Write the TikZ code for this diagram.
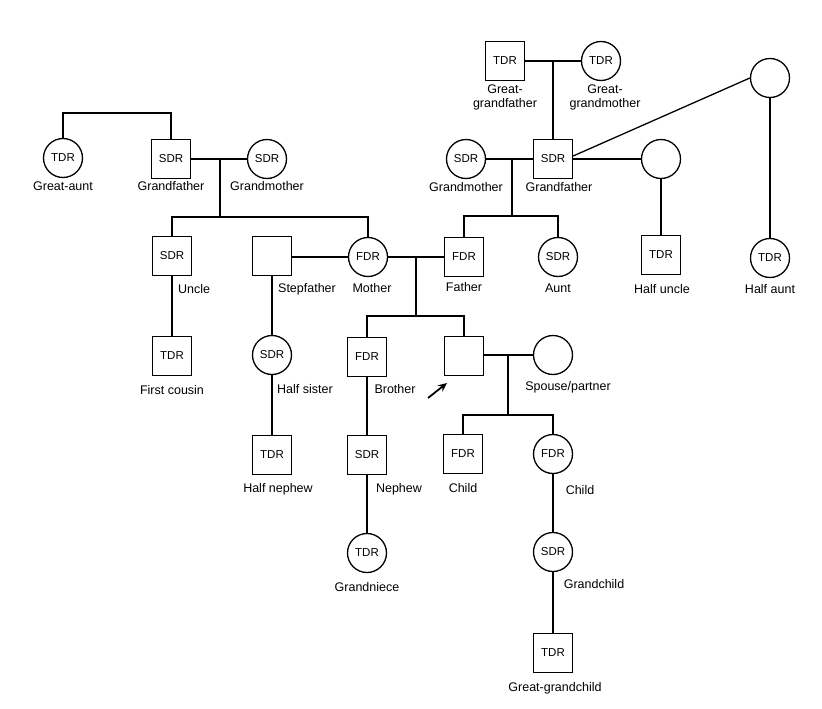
\documentclass[tikz,border=0pt]{standalone}
\usepackage{fontspec}
\setmainfont{Liberation Sans}
\usetikzlibrary{arrows.meta}
\begin{document}
\begin{tikzpicture}[x=1pt,y=-1pt,
  person/.style={draw, line width=1.3pt, inner sep=0pt, font=\fontsize{11.5}{12}\selectfont},
  male/.style={person, rectangle, minimum size=39pt},
  female/.style={person, circle, minimum size=39pt},
  lbl/.style={font=\fontsize{12.5}{14}\selectfont, inner sep=0pt, align=center},
  link/.style={line width=1.3pt}]
\useasboundingbox (0,0) rectangle (822,709);

% paternal side (left)
\node[female] (gaunt) at (63,158) {TDR};
\node[lbl] (gauntl) at (63,186) {Great-aunt};
\node[male] (pgf) at (171,159) {SDR};
\node[lbl] (pgfl) at (171,186) {Grandfather};
\node[female] (pgm) at (267,159) {SDR};
\node[lbl] (pgml) at (267,186) {Grandmother};

\node[male] (uncle) at (172,256) {SDR};
\node[lbl, anchor=west] (unclel) at (178,289) {Uncle};
\node[male] (cousin) at (172,356) {TDR};
\node[lbl] (cousinl) at (172,390) {First cousin};

\node[male] (step) at (272,256) {};
\node[lbl] (stepl) at (307,289) {Stepfather};
\node[female] (mother) at (368,257) {FDR};
\node[lbl] (motherl) at (372,288) {Mother};

\node[female] (hsis) at (272,355) {SDR};
\node[lbl] (hsisl) at (305,389) {Half sister};
\node[male] (hneph) at (272,455) {TDR};
\node[lbl] (hnephl) at (278,489) {Half nephew};

% maternal side (right)
\node[male] (ggf) at (505,61) {TDR};
\node[lbl] (ggfl) at (505,97) {Great-\\grandfather};
\node[female] (ggm) at (601,61) {TDR};
\node[lbl] (ggml) at (605,97) {Great-\\grandmother};
\node[female] (mgm) at (466,159) {SDR};
\node[lbl] (mgml) at (466,187) {Grandmother};
\node[male] (mgf) at (553,159) {SDR};
\node[lbl] (mgfl) at (559,187) {Grandfather};
\node[female] (w1) at (770,78) {};
\node[female] (w2) at (661,159) {};

\node[male] (father) at (464,257) {FDR};
\node[lbl] (fatherl) at (464,287) {Father};
\node[female] (aunt) at (558,257) {SDR};
\node[lbl] (auntl) at (558,288) {Aunt};
\node[male] (huncle) at (661,255) {TDR};
\node[lbl] (hunclel) at (662,289) {Half uncle};
\node[female] (haunt) at (770,258) {TDR};
\node[lbl] (hauntl) at (770,289) {Half aunt};

% sibship of ego
\node[male] (brother) at (367,357) {FDR};
\node[lbl] (brotherl) at (395,389) {Brother};
\node[male] (ego) at (464,356) {};
\node[female] (spouse) at (553,355) {};
\node[lbl] (spousel) at (568,387) {Spouse/partner};

\node[male] (nephew) at (367,455) {SDR};
\node[lbl] (nephewl) at (399,489) {Nephew};
\node[female] (gniece) at (367,553) {TDR};
\node[lbl] (gniecel) at (367,587) {Grandniece};

\node[male] (child1) at (463,454) {FDR};
\node[lbl] (child1l) at (463,488) {Child};
\node[female] (child2) at (553,454) {FDR};
\node[lbl] (child2l) at (580,490) {Child};
\node[female] (gchild) at (553,552) {SDR};
\node[lbl] (gchildl) at (594,584) {Grandchild};
\node[male] (ggchild) at (553,653) {TDR};
\node[lbl] (ggchildl) at (555,688) {Great-grandchild};

% junction points
\coordinate (m1) at (220,159);
\coordinate (s1) at (220,217);
\coordinate (m2) at (416,257);
\coordinate (s2) at (416,316);
\coordinate (m3) at (512,159);
\coordinate (s3) at (512,216);
\coordinate (m4) at (553,61);
\coordinate (m5) at (508,355);
\coordinate (s5) at (508,415);
\coordinate (arrs) at (428,398);
\coordinate (arre) at (447,383);

% connectors
\draw[link] (gaunt.north) -- ++(0,-25) -| (pgf.north);
\draw[link] (pgf) -- (pgm);
\draw[link] (m1) -- (s1);
\draw[link] (uncle.north) |- (s1) -| (mother.north);
\draw[link] (uncle) -- (cousin);
\draw[link] (step.east |- mother) -- (mother);
\draw[link] (step) -- (hsis);
\draw[link] (hsis) -- (hneph);

\draw[link] (mother) -- (father);
\draw[link] (m2) -- (s2);
\draw[link] (brother.north) |- (s2) -| (ego.north);
\draw[link] (brother) -- (nephew);
\draw[link] (nephew) -- (gniece);

\draw[link] (mgm) -- (mgf);
\draw[link] (m3) -- (s3);
\draw[link] (father.north) |- (s3) -| (aunt.north);
\draw[link] (ggf) -- (ggm);
\draw[link] (m4) -- (mgf.north);
\draw[link] (mgf) -- (w2);
\draw[link] ([yshift=3pt]mgf.east) -- (w1.west);
\draw[link] (w2) -- (huncle);
\draw[link] (w1) -- (haunt);

\draw[link] (ego.east |- spouse) -- (spouse);
\draw[link] (m5) -- (s5);
\draw[link] (child1.north) |- (s5) -| (child2.north);
\draw[link] (child2) -- (gchild);
\draw[link] (gchild) -- (ggchild);

\draw[line width=1.8pt, -{Stealth[length=9pt,width=8pt]}] (arrs) -- (arre);
\end{tikzpicture}
\end{document}
